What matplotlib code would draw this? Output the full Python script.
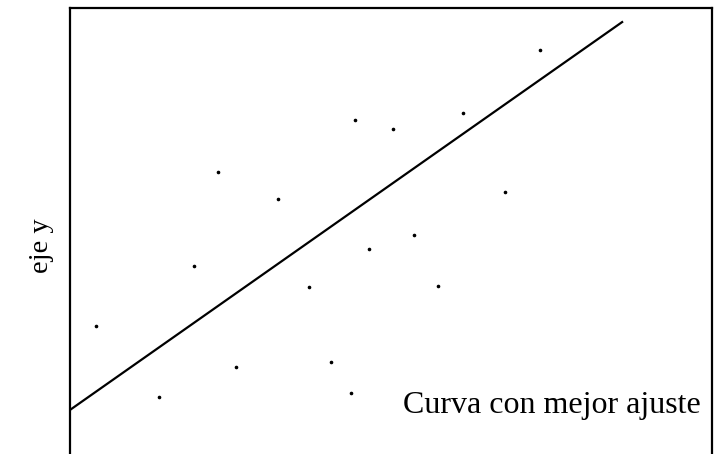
import matplotlib
matplotlib.use("Agg")
from matplotlib import pyplot as plt

# puntos dispersos
x_puntos = [0.40, 1.39, 1.93, 2.31, 2.59, 3.24, 3.72, 4.07, 4.38, 4.44,
            4.66, 5.03, 5.36, 5.73, 6.12, 6.78, 7.32]
y_puntos = [3.22, 1.71, 4.50, 6.50, 2.35, 5.93, 4.05, 2.45, 1.79, 7.61,
            4.86, 7.42, 5.16, 4.07, 7.76, 6.08, 9.10]

# recta de ajuste
x_recta = [0.0, 8.60]
y_recta = [1.43, 9.70]

plt.rcParams['font.family'] = ['Liberation Serif', 'DejaVu Serif']

fig = plt.figure(figsize=(7.18, 4.54), dpi=100)
# el eje baja más allá del borde inferior de la figura
ax = fig.add_axes([70/718, -23/454, 642/718, 469/454])
ax.set_xlim(0, 10)
ax.set_ylim(0, 10)

ax.plot(x_recta, y_recta, color='black', linewidth=1.6)
ax.plot(x_puntos, y_puntos, 'o', color='black', markersize=1.6)

ax.text(9.83, 1.36, "Curva con mejor ajuste", ha='right', va='baseline', fontsize=23)
fig.text(41/718, 1 - 246/454, "eje y", rotation=90, ha='center', va='center', fontsize=20.5)

ax.set_xticks([])
ax.set_yticks([])
for s in ax.spines.values():
    s.set_linewidth(1.6)

fig.savefig("out.png", dpi=100)
